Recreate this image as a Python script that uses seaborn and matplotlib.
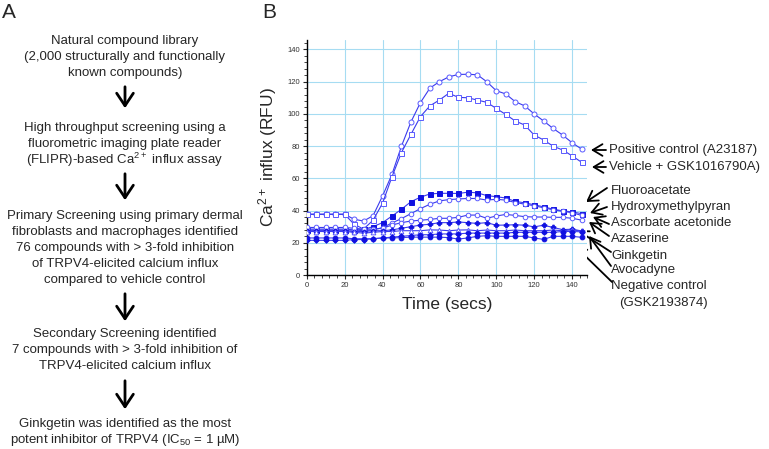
import numpy as np
import pandas as pd
import matplotlib
matplotlib.use("Agg")
import matplotlib.pyplot as plt
import seaborn as sns
from matplotlib.ticker import MultipleLocator

# time points (secs)
time_s = [0, 5, 10, 15, 20, 25, 30, 35, 40, 45, 50, 55, 60, 65, 70,
          75, 80, 85, 90, 95, 100, 105, 110, 115, 120, 125, 130, 135, 140, 145]

# Ca2+ influx (RFU)
positive_ctrl = [37.7, 37.7, 37.7, 37.7, 37.7, 34.6, 33.5, 36.8, 49, 62.5, 80, 95, 107, 116, 120,
                 123, 124.5, 124.6, 124.3, 120, 114.4, 112.4, 107.6, 105, 100, 95.6, 91, 86.9, 82.1, 78.2]
vehicle_gsk = [37.7, 37.7, 37.7, 37.7, 37.7, 31.5, 28.5, 34, 44.5, 61, 76, 87.3, 98.3, 105, 108.6,
               112.8, 110.3, 110, 108.6, 107.2, 103.4, 99.7, 95.6, 93.1, 86.9, 83.8, 80, 77.6, 74, 70]
fluoroacetate = [27.9, 27.9, 27.9, 27.9, 27.9, 27.9, 28.3, 30, 32.5, 36.6, 40.8, 45.5, 48.3, 50.3, 50.7,
                 50.7, 50.6, 51.4, 51, 49.3, 48.6, 47.8, 45.7, 44.8, 43.6, 42.3, 40.9, 39.8, 39.2, 38.1]
hydroxymethylpyran = [28.5, 28.5, 28.5, 28.5, 28.5, 28, 27.5, 28, 29.4, 32.3, 35, 38.1, 41.2, 43.9, 46,
                      46.8, 47.2, 47.5, 47.5, 46.5, 47, 46.5, 45, 44, 43, 41.7, 40.5, 39.5, 38.7, 37]
ascorbate_acetonide = [29.5, 29.5, 29.5, 29.5, 29.5, 29, 28.5, 28.5, 29, 31, 32.5, 33.5, 34, 34.5, 35.2,
                       35.2, 35.8, 37.2, 37.2, 35.2, 36.6, 37.6, 37, 36.2, 36, 36, 35.8, 35.8, 35.2, 34.1]
azaserine = [27.5, 27.5, 27.5, 27.5, 27.5, 27, 27, 27.5, 27.5, 28, 29, 30, 31, 31.5, 32.5,
             32.5, 32.9, 32.5, 32, 32.5, 30.9, 31, 31.2, 30.9, 29.9, 30.9, 29.5, 28.2, 28.4, 27.4]
ginkgetin = [27, 27, 27, 27, 27, 26.5, 26, 26.5, 27, 27, 27.5, 27.5, 27.5, 28, 27.9,
             27.5, 27.9, 28, 27.5, 27.9, 27.5, 27.5, 27.9, 27.5, 27.5, 27.5, 27.9, 27.5, 28, 27.3]
avocadyne = [21.5, 21.5, 21.5, 21.5, 21.5, 22, 22, 22.5, 23, 23.5, 24, 24.5, 25, 25, 25.5,
             25.5, 25.5, 26, 26, 26, 26, 26, 26.5, 26.5, 26.5, 26.5, 26.5, 27, 27, 26.8]
negative_ctrl = [23, 23, 23, 23, 23, 22.5, 22.5, 22.5, 23, 23, 23.2, 23.5, 23.5, 23.5, 23.5,
                 23.2, 22.3, 23, 24, 24.4, 24, 24, 24, 24, 23, 22.1, 24, 24, 24, 23.4]

series_names = ["Positive control (A23187)", "Vehicle + GSK1016790A)", "Fluoroacetate",
                "Hydroxymethylpyran", "Ascorbate acetonide", "Azaserine", "Ginkgetin",
                "Avocadyne", "Negative control"]
series_vals = [positive_ctrl, vehicle_gsk, fluoroacetate, hydroxymethylpyran, ascorbate_acetonide,
               azaserine, ginkgetin, avocadyne, negative_ctrl]

df = pd.DataFrame({
    "time": time_s * len(series_names),
    "rfu": np.concatenate(series_vals),
    "series": np.repeat(series_names, len(time_s)),
})

# flow chart text (panel A)
flow_steps = [
    ["Natural compound library", "(2,000 structurally and functionally", "known compounds)"],
    ["High throughput screening using a", "fluorometric imaging plate reader",
     "(FLIPR)-based Ca$^{2+}$ influx assay"],
    ["Primary Screening using primary dermal", "fibroblasts and macrophages identified",
     "76 compounds with > 3-fold inhibition", "of TRPV4-elicited calcium influx",
     "compared to vehicle control"],
    ["Secondary Screening identified", "7 compounds with > 3-fold inhibition of",
     "TRPV4-elicited calcium influx"],
    ["Ginkgetin was identified as the most", "potent inhibitor of TRPV4 (IC$_{50}$ = 1 µM)"],
]

sns.set_style("white")
plt.rcParams["font.family"] = ["Liberation Sans", "DejaVu Sans"]
plt.rcParams["mathtext.fontset"] = "custom"
plt.rcParams["mathtext.rm"] = "Liberation Sans"
plt.rcParams["mathtext.default"] = "regular"

W, H = 769, 449
fig = plt.figure(figsize=(W / 100, H / 100), dpi=100)

# overlay in pixel coords for text / arrows
ov = fig.add_axes([0, 0, 1, 1])
ov.set_xlim(0, W)
ov.set_ylim(H, 0)
ov.axis("off")

ax = fig.add_axes([306.7 / W, 174 / H, 280.5 / W, 235.2 / H])

blue = "#1010e0"
line_blue = "#3a3aee"
styles = {
    "Positive control (A23187)": dict(marker="o", mfc="white", ms=3.6),
    "Vehicle + GSK1016790A)": dict(marker="s", mfc="white", ms=3.6),
    "Fluoroacetate": dict(marker="s", mfc=blue, ms=3.6),
    "Hydroxymethylpyran": dict(marker="o", mfc="white", ms=3.3),
    "Ascorbate acetonide": dict(marker="o", mfc="white", ms=3.3),
    "Azaserine": dict(marker="P", mfc=blue, ms=3.4),
    "Ginkgetin": dict(marker="^", mfc="white", ms=3.4),
    "Avocadyne": dict(marker="D", mfc=blue, ms=2.8),
    "Negative control": dict(marker="o", mfc=blue, ms=3.4),
}

for name in series_names:
    st = styles[name]
    edge = "#5a5aff" if st["mfc"] == "white" else blue
    sns.lineplot(data=df[df["series"] == name], x="time", y="rfu", ax=ax,
                 color=line_blue, lw=0.8, marker=st["marker"], markersize=st["ms"],
                 markerfacecolor=st["mfc"], markeredgecolor=edge, markeredgewidth=0.7,
                 zorder=3)

ax.set_xlim(0, 148)
ax.set_ylim(0, 146)
ax.xaxis.set_major_locator(MultipleLocator(20))
ax.xaxis.set_minor_locator(MultipleLocator(4))
ax.yaxis.set_major_locator(MultipleLocator(20))
ax.yaxis.set_minor_locator(MultipleLocator(4))
ax.grid(True, which="major", color="#a6dcf2", lw=0.8)
ax.tick_params(which="major", length=3, width=0.8, labelsize=5.5, labelcolor="#333333",
               direction="out", pad=2)
ax.tick_params(which="minor", length=2, width=0.6, direction="out")
ax.tick_params(bottom=True, left=True, which="both")
for s in ["top", "right"]:
    ax.spines[s].set_visible(False)
for s in ["left", "bottom"]:
    ax.spines[s].set_color("black")
    ax.spines[s].set_linewidth(1.0)
ax.set_xlabel("Time (secs)", fontsize=12.5, labelpad=6)
ax.set_ylabel("Ca$^{2+}$ influx (RFU)", fontsize=12.5, labelpad=6)

# panel letters
ov.text(2, 3, "A", fontsize=15, va="top", ha="left")
ov.text(262, 3, "B", fontsize=15, va="top", ha="left")

# flow chart
line_y = [[41, 57, 73], [128, 144, 160], [216, 232, 248, 264, 280], [334, 350, 366], [424, 440]]
for block, ys in zip(flow_steps, line_y):
    for txt, y in zip(block, ys):
        ov.text(125, y, txt, fontsize=9.5, ha="center", va="center")
for y0, y1 in [(84, 111), (171, 203), (291, 324), (378, 412)]:
    ov.annotate("", xy=(125, y1), xytext=(125, y0),
                arrowprops=dict(arrowstyle="->,head_length=0.45,head_width=0.3",
                                lw=2.0, color="black", mutation_scale=20))

# labels for curves
arrow_kw = dict(arrowstyle="->,head_length=0.5,head_width=0.3", lw=1.3, color="black",
                mutation_scale=14, shrinkA=0, shrinkB=0)
labels = [
    ("Positive control (A23187)", (609, 150), (606, 150), (591, 150)),
    ("Vehicle + GSK1016790A)", (609, 167), (606, 167), (592, 167)),
    ("Fluoroacetate", (611, 191), (607, 188), (586, 202)),
    ("Hydroxymethylpyran", (611, 207), (607, 207), (590, 213)),
    ("Ascorbate acetonide", (611, 223), (609, 224), (593, 217)),
    ("Azaserine", (611, 239), (609, 236), (589, 222)),
    ("Ginkgetin", (611, 256), (611, 252), (577, 230)),
    ("Avocadyne", (611, 270), (611, 266), (589, 236)),
    ("Negative control", (611, 286), (612, 282), (575, 246)),
    ("(GSK2193874)", (619, 303), None, None),
]
for txt, tpos, tail, head in labels:
    ov.text(tpos[0], tpos[1], txt, fontsize=9.5, ha="left", va="center")
    if tail is not None:
        ov.annotate("", xy=head, xytext=tail, arrowprops=arrow_kw)

fig.savefig("out.png", dpi=100)
